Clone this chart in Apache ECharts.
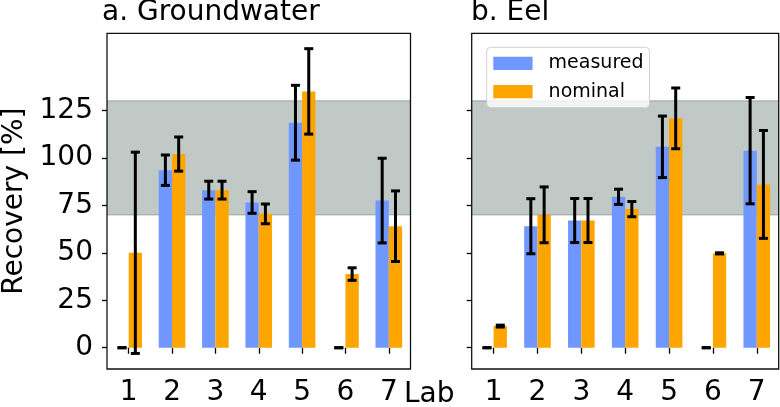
<!DOCTYPE html>
<html>
<head>
<meta charset="utf-8">
<script src="https://cdn.jsdelivr.net/npm/echarts@6/dist/echarts.min.js"></script>
<style>html,body{margin:0;padding:0;background:#fff;}#c{width:780px;height:407px;}</style>
</head>
<body>
<div id="c"></div>
<script>
var labs = ['1','2','3','4','5','6','7'];
var yTicks = [0, 25, 50, 75, 100, 125];
var band = [70, 130];
var gwMeasured = [0, 93.5, 83, 76.5, 118.5, 0, 77.5];
var gwMeasuredErr = [0, 8, 4.7, 5.7, 19.7, 0, 22.3];
var gwNominal = [50, 102, 83, 70.5, 135, 38.8, 64];
var gwNominalErr = [53, 9, 4.7, 5.2, 22.5, 3.3, 18.6];
var eelMeasured = [0, 64, 67, 79.5, 105.8, 0, 103.8];
var eelMeasuredErr = [0, 14.5, 11.6, 4, 16.2, 0, 28];
var eelNominal = [11.4, 70, 67, 73, 120.8, 49.7, 86];
var eelNominalErr = [0.5, 14.7, 11.6, 4, 16, 0.3, 28.4];

var FONT = 'DejaVu Sans';
var BLUE = '#6f97fd';
var ORANGE = '#ffa500';
var BAR_W = 13.3;

function errData(vals, errs) {
  return vals.map(function (v, i) { return [i, v - errs[i], v + errs[i]]; });
}
function errRender(offset) {
  return function (params, api) {
    var x = api.value(0);
    var pLo = api.coord([x, api.value(1)]);
    var pHi = api.coord([x, api.value(2)]);
    var cx = pLo[0] + offset;
    var cw = 4.5;
    var st = { stroke: '#000', lineWidth: 3 };
    return {
      type: 'group',
      children: [
        { type: 'line', shape: { x1: cx, y1: pLo[1], x2: cx, y2: pHi[1] }, style: st },
        { type: 'line', shape: { x1: cx - cw, y1: pLo[1], x2: cx + cw, y2: pLo[1] }, style: st },
        { type: 'line', shape: { x1: cx - cw, y1: pHi[1], x2: cx + cw, y2: pHi[1] }, style: st }
      ]
    };
  };
}
function bandRender(params, api) {
  var cs = params.coordSys;
  var yTop = api.coord([0, api.value(2)])[1];
  var yBot = api.coord([0, api.value(1)])[1];
  return {
    type: 'group',
    children: [
      { type: 'rect', shape: { x: cs.x, y: yTop, width: cs.width, height: yBot - yTop }, style: { fill: '#c1c9c7' } },
      { type: 'line', shape: { x1: cs.x, y1: yTop, x2: cs.x + cs.width, y2: yTop }, style: { stroke: '#98a19f', lineWidth: 1 } },
      { type: 'line', shape: { x1: cs.x, y1: yBot, x2: cs.x + cs.width, y2: yBot }, style: { stroke: '#98a19f', lineWidth: 1 } }
    ]
  };
}
function xAxisCfg(idx) {
  return {
    type: 'category', gridIndex: idx, data: labs,
    axisLine: { show: false },
    axisTick: { show: true, alignWithLabel: true, length: 6, lineStyle: { color: '#000', width: 1.3 } },
    axisLabel: { fontSize: 28, fontFamily: FONT, color: '#000', margin: 10 },
    splitLine: { show: false }
  };
}
function yAxisCfg(idx, showLabels) {
  var c = {
    type: 'value', gridIndex: idx, min: -11.2, max: 165.6,
    axisLine: { show: false },
    axisTick: { show: true, length: 5, customValues: yTicks, lineStyle: { color: '#000', width: 1.3 } },
    axisLabel: { show: showLabels, customValues: yTicks, fontSize: 28, fontFamily: FONT, color: '#000', margin: 14 },
    splitLine: { show: false }
  };
  if (showLabels) {
    c.name = 'Recovery [%]';
    c.nameLocation = 'middle';
    c.nameRotate = 90;
    c.nameGap = 78;
    c.nameTextStyle = { fontSize: 28, fontFamily: FONT, color: '#000' };
  }
  return c;
}
function panelSeries(idx, meas, measErr, nom, nomErr) {
  return [
    { type: 'custom', xAxisIndex: idx, yAxisIndex: idx, z: 1, silent: true, data: [[0, band[0], band[1]]], renderItem: bandRender },
    { name: 'measured', type: 'bar', xAxisIndex: idx, yAxisIndex: idx, z: 2, barWidth: BAR_W, barGap: '0%', data: meas, itemStyle: { color: BLUE } },
    { name: 'nominal', type: 'bar', xAxisIndex: idx, yAxisIndex: idx, z: 2, barWidth: BAR_W, barGap: '0%', data: nom, itemStyle: { color: ORANGE } },
    { type: 'custom', xAxisIndex: idx, yAxisIndex: idx, z: 3, silent: true, data: errData(meas, measErr), renderItem: errRender(-BAR_W / 2) },
    { type: 'custom', xAxisIndex: idx, yAxisIndex: idx, z: 3, silent: true, data: errData(nom, nomErr), renderItem: errRender(BAR_W / 2) }
  ];
}

var chart = echarts.init(document.getElementById('c'), null, { renderer: 'canvas' });
chart.setOption({
  animation: false,
  backgroundColor: '#fff',
  textStyle: { fontFamily: FONT },
  title: [
    { text: 'a. Groundwater', left: 102, top: -1, padding: 0, textStyle: { fontSize: 28, fontWeight: 'normal', fontFamily: FONT, color: '#000' } },
    { text: 'b. Eel', left: 471, top: -1, padding: 0, textStyle: { fontSize: 28, fontWeight: 'normal', fontFamily: FONT, color: '#000' } }
  ],
  grid: [
    { left: 103.5, top: 33.3, width: 307, height: 335.7, show: true, z: 5, borderColor: '#111', borderWidth: 1.3, backgroundColor: 'transparent' },
    { left: 471.7, top: 33.3, width: 307, height: 335.7, show: true, z: 5, borderColor: '#111', borderWidth: 1.3, backgroundColor: 'transparent' }
  ],
  xAxis: [xAxisCfg(0), xAxisCfg(1)],
  yAxis: [yAxisCfg(0, true), yAxisCfg(1, false)],
  legend: {
    data: ['measured', 'nominal'],
    orient: 'vertical',
    left: 486.7, top: 47.3,
    padding: [6, 6, 6, 6.6],
    itemWidth: 39.3, itemHeight: 13.3, itemGap: 8.3,
    icon: 'rect',
    backgroundColor: 'rgba(255,255,255,0.8)',
    borderColor: '#d0d0d0', borderWidth: 1, borderRadius: 4,
    z: 10,
    textStyle: { fontSize: 19, fontFamily: FONT, color: '#000', lineHeight: 20, padding: [0, 0, 0, 11] }
  },
  graphic: [
    { type: 'text', left: 404, top: 381, style: { text: 'Lab', font: '28px "DejaVu Sans"', fill: '#000' } }
  ],
  series: panelSeries(0, gwMeasured, gwMeasuredErr, gwNominal, gwNominalErr)
    .concat(panelSeries(1, eelMeasured, eelMeasuredErr, eelNominal, eelNominalErr))
});
</script>
</body>
</html>
